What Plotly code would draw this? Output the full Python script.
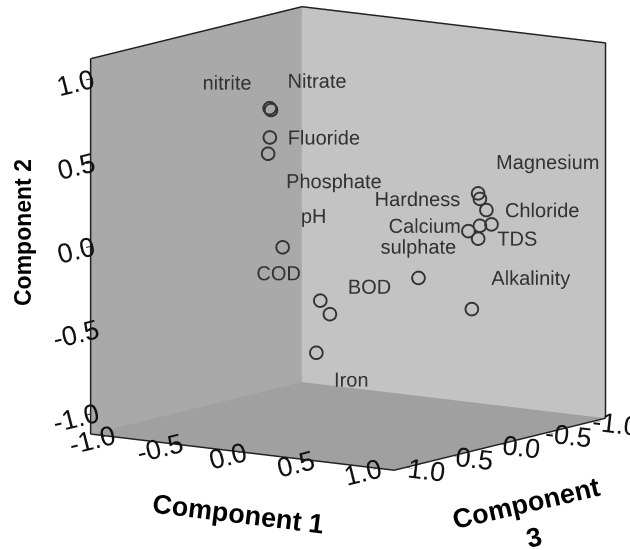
import plotly.graph_objects as go

# Loadings (read/estimated from the picture)
variables = ["nitrite", "Nitrate", "Fluoride", "Phosphate", "pH", "COD", "BOD", "Iron",
             "sulphate", "Alkalinity", "Magnesium", "Hardness", "Chloride", "", "Calcium", "", "TDS"]
comp1 = [-0.14, -0.15, -0.10, -0.05, 0.05, 0.30, 0.35, 0.25,
         0.60, 0.75, 0.88, 0.90, 0.92, 0.93, 0.90, 0.85, 0.95]
comp2 = [0.84, 0.85, 0.69, 0.61, 0.06, -0.24, -0.32, -0.56,
         -0.16, -0.38, 0.34, 0.31, 0.24, 0.15, 0.15, 0.12, 0.09]
comp3 = [0.62, 0.62, 0.69, 0.78, 0.77, 0.73, 0.70, 0.70,
         0.12, -0.23, -0.11, -0.10, -0.14, -0.18, -0.10, -0.05, -0.01]
label_pos = ["top left", "top right", "middle right", "bottom right", "top right", "top left",
             "top right", "bottom right", "top center", "top right", "top right", "middle left",
             "middle right", "middle right", "middle left", "middle left", "middle right"]

tick_vals = [-1.0, -0.5, 0.0, 0.5, 1.0]
tick_text = ["-1.0", "-0.5", "0.0", "0.5", "1.0"]
R = 1.12
axis_range = [-R, R]

FONT = "Liberation Sans, Arial, sans-serif"

fig = go.Figure()
# frame: top edges of the two back walls and the right outer edge
fig.add_trace(go.Scatter3d(
    x=[R, -R, -R, -R], y=[-R, -R, R, R], z=[R, R, R, -R],
    mode="lines", line=dict(color="#222222", width=3),
    hoverinfo="skip", showlegend=False,
))
fig.add_trace(go.Scatter3d(
    x=comp3, y=comp1, z=comp2,
    mode="markers+text",
    text=variables,
    textposition=label_pos,
    textfont=dict(family=FONT, size=20, color="#333333"),
    marker=dict(symbol="circle-open", size=8, color="#333333", line=dict(width=2, color="#333333")),
    hoverinfo="skip",
    showlegend=False,
))

def ax(bg):
    return dict(
        range=axis_range, tickvals=tick_vals, ticktext=tick_text,
        showbackground=True, backgroundcolor=bg,
        showgrid=False, zeroline=False, showspikes=False,
        showline=True, linecolor="#222222", linewidth=3,
        ticks="outside", ticklen=8, tickcolor="#222222", tickwidth=2,
        tickfont=dict(family=FONT, size=18, color="#111111"),
        title=dict(text=""),
    )

S = 1.345
ctr = (0.087, -0.086, -0.131)
eye_dir = (1.747, 1.216, 0.37)
fig.update_layout(
    width=630, height=550,
    margin=dict(l=0, r=0, t=0, b=0),
    paper_bgcolor="white",
    scene=dict(
        domain=dict(x=[0.0, 1.0], y=[0.0, 1.0]),
        xaxis=ax("#c3c3c3"),
        yaxis=ax("#a9a9a9"),
        zaxis=ax("#a0a0a0"),
        aspectmode="manual",
        aspectratio=dict(x=S, y=S, z=1.03 * S),
        camera=dict(
            projection=dict(type="orthographic"),
            up=dict(x=0, y=0, z=1),
            center=dict(x=ctr[0], y=ctr[1], z=ctr[2]),
            eye=dict(x=eye_dir[0] + ctr[0], y=eye_dir[1] + ctr[1], z=eye_dir[2] + ctr[2]),
        ),
    ),
    annotations=[
        dict(text="<b>Component 2</b>", x=23, y=233, textangle=-90,
             font=dict(family=FONT, size=23, color="black")),
        dict(text="<b>Component 1</b>", x=238, y=514, textangle=7,
             font=dict(family=FONT, size=27, color="black")),
        dict(text="<b>Component<br>3</b>", x=530, y=520, textangle=-13,
             font=dict(family=FONT, size=27, color="black")),
    ],
)
# annotation positions given in pixels -> paper coordinates
for a in fig.layout.annotations:
    a.xref = "paper"
    a.yref = "paper"
    a.xanchor = "center"
    a.yanchor = "middle"
    a.showarrow = False
    a.x = a.x / 630
    a.y = 1 - a.y / 550

fig.write_html("out.html")
